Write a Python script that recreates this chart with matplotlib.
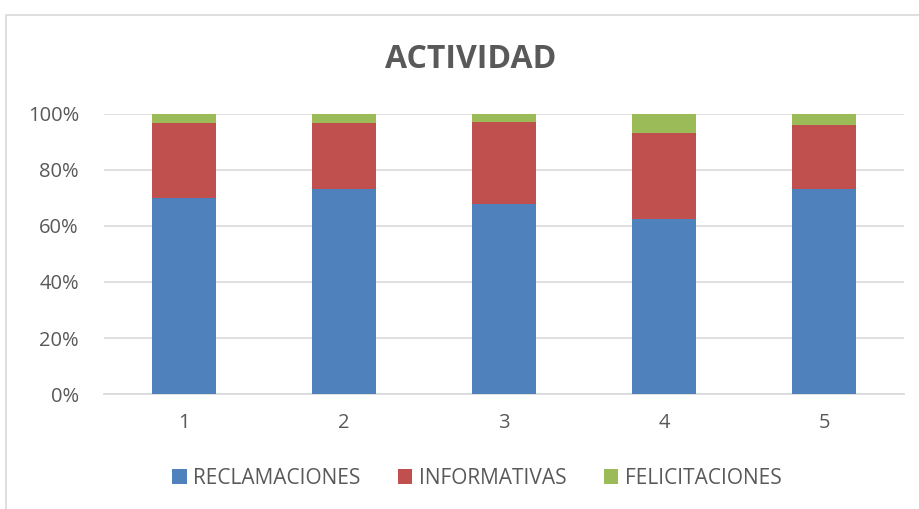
import matplotlib

matplotlib.use("Agg")
import matplotlib.pyplot as plt
import numpy as np
from matplotlib.patches import Rectangle
from matplotlib.ticker import PercentFormatter

categories = ["1", "2", "3", "4", "5"]
reclamaciones = [69.9, 73.1, 67.7, 62.4, 73.1]
informativas = [27.0, 23.8, 29.6, 30.9, 22.9]
felicitaciones = [3.1, 3.1, 2.7, 6.7, 4.0]

BLUE, RED, GREEN = "#4F81BD", "#C0504D", "#9BBB59"
TEXT = "#595959"
GRID = "#D9D9D9"

plt.rcParams["font.family"] = ["Open Sans", "DejaVu Sans"]

fig = plt.figure(figsize=(9.2, 5.09), dpi=100)
fig.patch.set_facecolor("white")
# chart frame (Excel style), right/bottom edges run off the image
fig.patches.append(Rectangle((6 / 920, -0.05), 1.0, 1 - 15 / 509 + 0.05,
                             transform=fig.transFigure, fill=False,
                             edgecolor=GRID, linewidth=1.2))

ax = fig.add_axes([104 / 920, 1 - 394 / 509, 800 / 920, 280 / 509])
x = np.arange(1, len(categories) + 1)
w = 0.4
r = np.array(reclamaciones)
i = np.array(informativas)
f = np.array(felicitaciones)
ax.bar(x, r, w, color=BLUE, label="RECLAMACIONES", zorder=3)
ax.bar(x, i, w, bottom=r, color=RED, label="INFORMATIVAS", zorder=3)
ax.bar(x, f, w, bottom=r + i, color=GREEN, label="FELICITACIONES", zorder=3)

ax.set_xlim(0.5, len(categories) + 0.5)
ax.set_ylim(0, 100)
ax.set_yticks(np.arange(0, 101, 20))
ax.yaxis.set_major_formatter(PercentFormatter(decimals=0))
ax.set_xticks(x)
ax.set_xticklabels(categories)
ax.tick_params(axis="both", length=0, colors=TEXT, labelsize=14.5)
ax.tick_params(axis="x", pad=14)
ax.tick_params(axis="y", pad=18)
ax.grid(axis="y", color=GRID, linewidth=1.2, zorder=0)
for s in ("top", "right", "left"):
    ax.spines[s].set_visible(False)
ax.spines["bottom"].set_color(GRID)
ax.spines["bottom"].set_linewidth(1.2)

fig.text(471 / 920, 1 - 60 / 509, "ACTIVIDAD", ha="center", va="center",
         fontsize=23, fontweight="bold", color=TEXT)
ax.legend(loc="center", bbox_to_anchor=(0.466, -0.30), ncol=3, frameon=False,
          fontsize=15, labelcolor=TEXT, handlelength=0.7, handleheight=0.7,
          handletextpad=0.3, columnspacing=1.8)

fig.savefig("out.png", dpi=100, facecolor="white")
